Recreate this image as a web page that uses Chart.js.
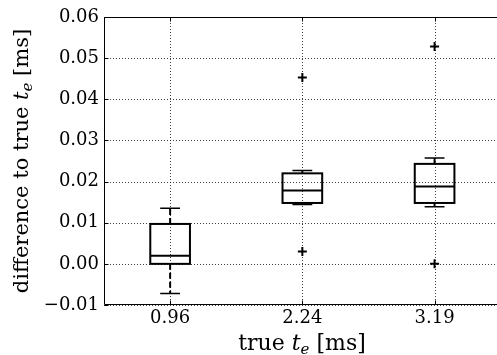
<!DOCTYPE html>
<html>
<head>
<meta charset="utf-8">
<script src="https://cdn.jsdelivr.net/npm/chart.js@4/dist/chart.umd.min.js"></script>
<style>
  html, body { margin: 0; padding: 0; background: #fff; }
  #wrap { width: 497px; height: 355px; position: relative; }
</style>
</head>
<body>
<div id="wrap"><canvas id="c"></canvas></div>
<script>
// Box-plot summary per true t_e setting (differences in ms)
const categories  = ['0.96', '2.24', '3.19'];
const whiskerLow  = [-0.0072, 0.0144, 0.0139];
const q1          = [ 0.0000, 0.0148, 0.0148];
const median      = [ 0.0020, 0.0178, 0.0188];
const q3          = [ 0.0097, 0.0220, 0.0243];
const whiskerHigh = [ 0.0135, 0.0227, 0.0257];
const outliers    = [[], [0.0453, 0.0030], [0.0528, 0.0000]];
const yTicks      = [-0.01, 0.00, 0.01, 0.02, 0.03, 0.04, 0.05, 0.06];

const FONT = "'DejaVu Serif', serif";
const positions = categories.map((_, i) => i + 1);
const X_MIN = 0.5;
const X_AT_CANVAS_EDGE = 3.472;   // x value reached at the right edge of the canvas

const outlierPoints = [];
outliers.forEach((vals, i) => vals.forEach(v => outlierPoints.push({ x: positions[i], y: v })));

// Dotted grid that runs out to the canvas edge
const gridPlugin = {
  id: 'dottedGrid',
  beforeDatasetsDraw(chart) {
    const { ctx, chartArea: a, scales: { x, y } } = chart;
    ctx.save();
    ctx.strokeStyle = 'rgba(0,0,0,0.75)';
    ctx.lineWidth = 1;
    ctx.setLineDash([1, 2]);
    ctx.beginPath();
    yTicks.forEach(v => {
      const py = Math.round(y.getPixelForValue(v)) + 0.5;
      ctx.moveTo(a.left, py); ctx.lineTo(chart.width, py);
    });
    positions.forEach(p => {
      const px = Math.round(x.getPixelForValue(p)) + 0.5;
      ctx.moveTo(px, a.top); ctx.lineTo(px, a.bottom);
    });
    ctx.stroke();
    ctx.restore();
  }
};

// Boxes, medians, dashed whiskers and caps drawn through the chart's scales
const boxPlugin = {
  id: 'boxes',
  afterDatasetsDraw(chart) {
    const { ctx, scales: { x, y } } = chart;
    ctx.save();
    ctx.strokeStyle = '#000';
    positions.forEach((p, i) => {
      const xl = x.getPixelForValue(p - 0.15), xr = x.getPixelForValue(p + 0.15);
      const xc = x.getPixelForValue(p);
      const cl = x.getPixelForValue(p - 0.075), cr = x.getPixelForValue(p + 0.075);
      const yq1 = y.getPixelForValue(q1[i]), yq3 = y.getPixelForValue(q3[i]);
      const ym = y.getPixelForValue(median[i]);
      const ylo = y.getPixelForValue(whiskerLow[i]), yhi = y.getPixelForValue(whiskerHigh[i]);
      // whiskers
      ctx.lineWidth = 2;
      ctx.setLineDash([6, 3]);
      ctx.beginPath();
      ctx.moveTo(xc, yq1); ctx.lineTo(xc, ylo);
      ctx.moveTo(xc, yq3); ctx.lineTo(xc, yhi);
      ctx.stroke();
      ctx.setLineDash([]);
      // caps
      ctx.lineWidth = 1.5;
      ctx.beginPath();
      ctx.moveTo(cl, ylo); ctx.lineTo(cr, ylo);
      ctx.moveTo(cl, yhi); ctx.lineTo(cr, yhi);
      ctx.stroke();
      // box
      ctx.lineWidth = 2;
      ctx.strokeRect(xl, yq3, xr - xl, yq1 - yq3);
      // median
      ctx.beginPath();
      ctx.moveTo(xl, ym); ctx.lineTo(xr, ym);
      ctx.stroke();
    });
    ctx.restore();
  }
};

// Axes frame, inward ticks and axis titles
const framePlugin = {
  id: 'frame',
  afterDraw(chart) {
    const { ctx, chartArea: a, scales: { x, y } } = chart;
    ctx.save();
    ctx.strokeStyle = '#000';
    ctx.lineWidth = 1;
    const R = chart.width;
    const L = Math.round(a.left) + 0.5, T = Math.round(a.top) + 0.5, B = Math.round(a.bottom) - 0.5;
    ctx.beginPath();
    ctx.moveTo(R, T); ctx.lineTo(L, T); ctx.lineTo(L, B); ctx.lineTo(R, B);
    yTicks.forEach(v => {
      const py = Math.round(y.getPixelForValue(v)) + 0.5;
      ctx.moveTo(L, py); ctx.lineTo(L + 4, py);
    });
    positions.forEach(p => {
      const px = Math.round(x.getPixelForValue(p)) + 0.5;
      ctx.moveTo(px, B); ctx.lineTo(px, B - 4);
      ctx.moveTo(px, T); ctx.lineTo(px, T + 4);
    });
    ctx.stroke();

    // title pieces: regular text, italic t, subscript e
    const drawTitle = (cx, cy, size, pre, post) => {
      const big = size + 'px ' + FONT, it = 'italic ' + size + 'px ' + FONT;
      const sub = 'italic ' + Math.round(size * 0.7) + 'px ' + FONT;
      ctx.font = big; const w1 = ctx.measureText(pre).width, w4 = ctx.measureText(post).width;
      ctx.font = it; const w2 = ctx.measureText('t').width;
      ctx.font = sub; const w3 = ctx.measureText('e').width;
      let sx = cx - (w1 + w2 + w3 + w4) / 2;
      ctx.fillStyle = '#000';
      ctx.textBaseline = 'alphabetic';
      ctx.textAlign = 'left';
      ctx.font = big; ctx.fillText(pre, sx, cy); sx += w1;
      ctx.font = it;  ctx.fillText('t', sx, cy); sx += w2;
      ctx.font = sub; ctx.fillText('e', sx, cy + 4); sx += w3;
      ctx.font = big; ctx.fillText(post, sx, cy);
    };
    drawTitle(302, 350, 22, 'true ', ' [ms]');
    ctx.translate(28, 161);
    ctx.rotate(-Math.PI / 2);
    drawTitle(0, 0, 21, 'difference to true ', ' [ms]');
    ctx.restore();
  }
};

const chart = new Chart(document.getElementById('c'), {
  type: 'scatter',
  data: {
    datasets: [{
      data: outlierPoints,
      pointStyle: 'cross',
      radius: 4.5,
      borderWidth: 2,
      borderColor: '#000',
      backgroundColor: '#000'
    }]
  },
  options: {
    responsive: true,
    maintainAspectRatio: false,
    animation: false,
    layout: { padding: { left: 0, right: 0, top: 17, bottom: 0 } },
    plugins: { legend: { display: false }, tooltip: { enabled: false } },
    scales: {
      x: {
        type: 'linear',
        min: X_MIN,
        max: X_AT_CANVAS_EDGE,
        afterBuildTicks: s => { s.ticks = positions.map(v => ({ value: v })); },
        afterFit: s => { s.height = 50; },
        ticks: {
          callback: v => categories[positions.indexOf(v)] ?? '',
          font: { family: FONT, size: 18 },
          color: '#000',
          padding: 3,
          maxRotation: 0
        },
        grid: { display: false, drawTicks: false },
        border: { display: false }
      },
      y: {
        min: -0.01,
        max: 0.06,
        afterBuildTicks: s => { s.ticks = yTicks.map(v => ({ value: v })); },
        afterFit: s => { s.width = 104; },
        ticks: {
          callback: v => (v < 0 ? '\u2212' : '') + Math.abs(v).toFixed(2),
          font: { family: FONT, size: 18 },
          color: '#000',
          padding: 5
        },
        grid: { display: false, drawTicks: false },
        border: { display: false }
      }
    }
  },
  plugins: [gridPlugin, boxPlugin, framePlugin]
});

// The plot area stops a few pixels short of the canvas; stretch the x range so the
// canvas edge still corresponds to X_AT_CANVAS_EDGE.
const a = chart.chartArea;
chart.options.scales.x.max = X_MIN + (X_AT_CANVAS_EDGE - X_MIN) * (a.right - a.left) / (chart.width - a.left);
chart.update();
</script>
</body>
</html>
